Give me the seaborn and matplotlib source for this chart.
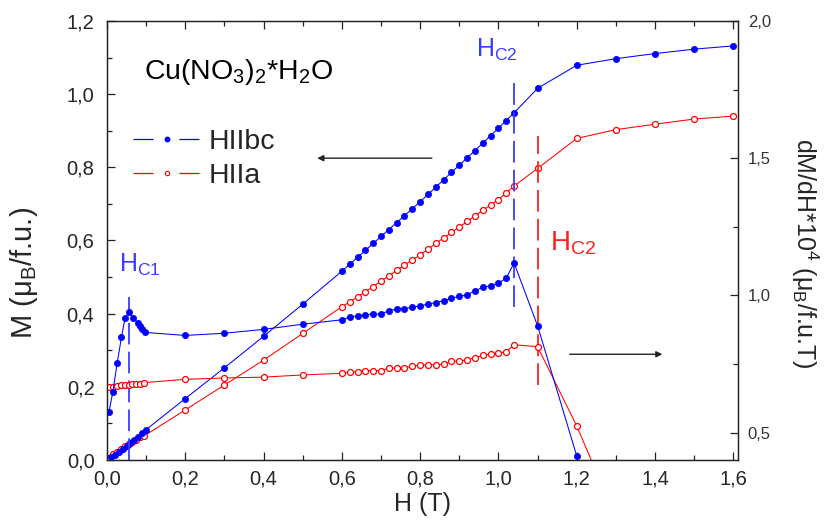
import pandas as pd
import matplotlib
matplotlib.use('Agg')
import matplotlib.pyplot as plt
import seaborn as sns
from matplotlib.lines import Line2D
from matplotlib.ticker import MultipleLocator, FuncFormatter

# magnetisation M(H), H || bc (left axis)
h_bc_m = [0.01, 0.02, 0.03, 0.04, 0.05, 0.06, 0.07, 0.08, 0.09, 0.10,
          0.2, 0.3, 0.4, 0.5, 0.6,
          0.62, 0.64, 0.66, 0.68, 0.70, 0.72, 0.74, 0.76, 0.78, 0.80, 0.82,
          0.84, 0.86, 0.88, 0.90, 0.92, 0.94, 0.96, 0.98, 1.00, 1.02, 1.04,
          1.1, 1.2, 1.3, 1.4, 1.5, 1.6]
m_bc = [0.007, 0.015, 0.022, 0.030, 0.038, 0.047, 0.055, 0.063, 0.073, 0.083,
        0.168, 0.252, 0.338, 0.426, 0.516,
        0.535, 0.554, 0.573, 0.592, 0.611, 0.630, 0.649, 0.668, 0.687, 0.706, 0.726,
        0.746, 0.766, 0.786, 0.806, 0.826, 0.846, 0.866, 0.887, 0.907, 0.928, 0.949,
        1.016, 1.079, 1.097, 1.111, 1.123, 1.132]

# magnetisation M(H), H || a (left axis)
h_a_m = [0.005, 0.015, 0.025, 0.035, 0.045, 0.055, 0.065, 0.075, 0.085, 0.095,
         0.2, 0.3, 0.4, 0.5, 0.6,
         0.62, 0.64, 0.66, 0.68, 0.70, 0.72, 0.74, 0.76, 0.78, 0.80, 0.82,
         0.84, 0.86, 0.88, 0.90, 0.92, 0.94, 0.96, 0.98, 1.00, 1.02, 1.04,
         1.1, 1.2, 1.3, 1.4, 1.5, 1.6]
m_a = [0.005, 0.016, 0.023, 0.029, 0.038, 0.044, 0.050, 0.056, 0.062, 0.066,
       0.137, 0.205, 0.273, 0.346, 0.419,
       0.432, 0.446, 0.460, 0.474, 0.489, 0.503, 0.518, 0.533, 0.547, 0.561, 0.576,
       0.592, 0.607, 0.622, 0.637, 0.652, 0.667, 0.683, 0.697, 0.712, 0.730, 0.749,
       0.797, 0.879, 0.903, 0.918, 0.932, 0.940]

# derivative dM/dH * 10^4, H || bc (right axis)
h_bc_d = [0.005, 0.015, 0.026, 0.037, 0.046, 0.056, 0.067, 0.078, 0.084, 0.089, 0.097,
          0.2, 0.3, 0.4, 0.5, 0.6,
          0.62, 0.64, 0.66, 0.68, 0.70, 0.72, 0.74, 0.76, 0.78, 0.80, 0.82,
          0.84, 0.86, 0.88, 0.90, 0.92, 0.94, 0.96, 0.98, 1.00, 1.02, 1.04,
          1.1, 1.2]
d_bc = [0.574, 0.649, 0.753, 0.848, 0.917, 0.939, 0.919, 0.901, 0.889, 0.878, 0.865,
        0.854, 0.862, 0.876, 0.895, 0.911,
        0.921, 0.926, 0.929, 0.932, 0.932, 0.944, 0.950, 0.952, 0.957, 0.962, 0.968,
        0.974, 0.981, 0.990, 0.996, 1.002, 1.017, 1.029, 1.035, 1.045, 1.063, 1.118,
        0.889, 0.415]

# derivative dM/dH * 10^4, H || a (right axis)
h_a_d = [0.005, 0.015, 0.025, 0.035, 0.045, 0.055, 0.065, 0.075, 0.085, 0.095,
         0.2, 0.3, 0.4, 0.5, 0.6,
         0.62, 0.64, 0.66, 0.68, 0.70, 0.72, 0.74, 0.76, 0.78, 0.80, 0.82,
         0.84, 0.86, 0.88, 0.90, 0.92, 0.94, 0.96, 0.98, 1.00, 1.02, 1.04,
         1.1, 1.2, 1.3]
d_a = [0.667, 0.667, 0.670, 0.673, 0.674, 0.675, 0.676, 0.676, 0.677, 0.682,
       0.694, 0.699, 0.702, 0.710, 0.716,
       0.720, 0.722, 0.726, 0.726, 0.726, 0.735, 0.735, 0.737, 0.741, 0.747, 0.747,
       0.747, 0.750, 0.759, 0.761, 0.765, 0.773, 0.781, 0.787, 0.789, 0.795, 0.820,
       0.813, 0.524, 0.190]

# critical fields
hc1 = 0.055
hc2_bc = 1.04
hc2_a = 1.10

legend_labels = ['HIIbc', 'HIIa']

BLUE = '#0000ff'
RED = '#ff0000'


def comma(v, pos):
    return f'{v:.1f}'.replace('.', ',')


def main():
    sns.set_theme(style='ticks')
    plt.rcParams['font.family'] = ['Liberation Sans', 'DejaVu Sans']
    plt.rcParams['mathtext.default'] = 'regular'

    fig = plt.figure(figsize=(8.27, 5.22), dpi=100)
    ax = fig.add_axes([107 / 827, 62 / 522, 631 / 827, 439 / 522])
    ax2 = ax.twinx()

    lw = 0.75
    filled = dict(marker='o', markersize=4.5, markerfacecolor=BLUE, markeredgecolor=BLUE,
                  markeredgewidth=0.5, color=BLUE, lw=lw, estimator=None, sort=False, legend=False)
    hollow = dict(marker='o', markersize=4.3, markerfacecolor='white', markeredgecolor=RED,
                  markeredgewidth=0.9, color=RED, lw=lw, estimator=None, sort=False, legend=False)

    sns.lineplot(data=pd.DataFrame({'H': h_a_m, 'M': m_a}), x='H', y='M', ax=ax, **hollow)
    sns.lineplot(data=pd.DataFrame({'H': h_bc_m, 'M': m_bc}), x='H', y='M', ax=ax, **filled)
    sns.lineplot(data=pd.DataFrame({'H': h_a_d, 'D': d_a}), x='H', y='D', ax=ax2, **hollow)
    sns.lineplot(data=pd.DataFrame({'H': h_bc_d, 'D': d_bc}), x='H', y='D', ax=ax2, **filled)

    # critical field markers
    ax.plot([hc1, hc1], [0.0, 0.445], color='#3c3cff', lw=1.3, ls=(0, (12, 4)))
    ax.plot([hc2_bc, hc2_bc], [0.418, 1.044], color='#3c3cff', lw=1.3, ls=(0, (12, 4)))
    ax.plot([hc2_a, hc2_a], [0.205, 0.885], color='#ff2020', lw=1.3, ls=(0, (12, 4)))

    ax.set_xlim(0, 1.612)
    ax.set_ylim(0, 1.2)
    ax2.set_ylim(0.4, 2.0)

    ax.xaxis.set_major_locator(MultipleLocator(0.2))
    ax.xaxis.set_minor_locator(MultipleLocator(0.1))
    ax.yaxis.set_major_locator(MultipleLocator(0.2))
    ax.yaxis.set_minor_locator(MultipleLocator(0.1))
    ax2.yaxis.set_major_locator(MultipleLocator(0.5))
    ax2.yaxis.set_minor_locator(MultipleLocator(0.25))
    for a in (ax.xaxis, ax.yaxis, ax2.yaxis):
        a.set_major_formatter(FuncFormatter(comma))

    ax.tick_params(which='both', direction='in', top=True, right=False, color='#222222', width=0.9)
    ax.tick_params(which='major', length=6, labelsize=14.5, pad=7)
    ax.tick_params(axis='y', which='major', pad=9)
    ax.tick_params(which='minor', length=3.5)
    ax2.tick_params(which='both', direction='in', color='#222222', width=0.9)
    ax2.tick_params(which='major', length=6, labelsize=12, pad=7, labelcolor='#333333')
    ax2.tick_params(which='minor', length=3.5)
    for a in (ax, ax2):
        for s in a.spines.values():
            s.set_linewidth(0.9)
            s.set_color('#222222')

    ax.set_xlabel('H (T)', fontsize=18, labelpad=2)
    ax.set_ylabel('M (μ$_B$/f.u.)', fontsize=21)
    ax.yaxis.label.set_rotation_mode('default')
    ax.yaxis.label.set_va('center')
    ax.yaxis.set_label_coords(-0.132, 0.425)
    ax2.set_ylabel('dM/dH*10$^4$ (μ$_B$/f.u.T)', fontsize=18, rotation=270)
    ax2.yaxis.label.set_rotation_mode('default')
    ax2.yaxis.label.set_va('center')
    ax2.yaxis.set_label_coords(1.106, 0.4715)

    # annotations
    ax.text(0.095, 1.041, 'Cu(NO$_3$)$_2$*H$_2$O', fontsize=20.5, color='black', va='baseline')
    ax.text(0.031, 0.514, 'H$_{C1}$', fontsize=18, color='#3c3cff', va='baseline')
    ax.text(0.942, 1.101, 'H$_{C2}$', fontsize=18, color='#3c3cff', va='baseline')
    ax.text(1.132, 0.574, 'H$_{C2}$', fontsize=20, color='#ff2020', va='baseline')

    arrow = dict(arrowstyle='-|>', color='#222222', lw=1.0, mutation_scale=9)
    ax.annotate('', xy=(0.530, 0.825), xytext=(0.837, 0.825), arrowprops=arrow)
    ax.annotate('', xy=(1.426, 0.289), xytext=(1.175, 0.289), arrowprops=arrow)

    lw_leg = 0.9
    handles = [
        Line2D([0], [0], color=BLUE, lw=lw_leg, ls=(0, (14.4 / lw_leg, 18.7 / lw_leg)),
               marker='o', markersize=3.2, markerfacecolor=BLUE, markeredgecolor=BLUE),
        Line2D([0], [0], color=RED, lw=lw_leg, ls=(0, (14.4 / lw_leg, 18.7 / lw_leg)),
               marker='o', markersize=3.2, markerfacecolor='white', markeredgecolor=RED,
               markeredgewidth=0.8),
    ]
    ax.legend(handles, legend_labels, loc='upper left', bbox_to_anchor=(0.041, 0.755),
              frameon=False, fontsize=20.5, handlelength=2.37, handletextpad=0.3,
              labelspacing=0.3, borderpad=0, borderaxespad=0)

    fig.savefig('out.png', dpi=100)


if __name__ == '__main__':
    main()
